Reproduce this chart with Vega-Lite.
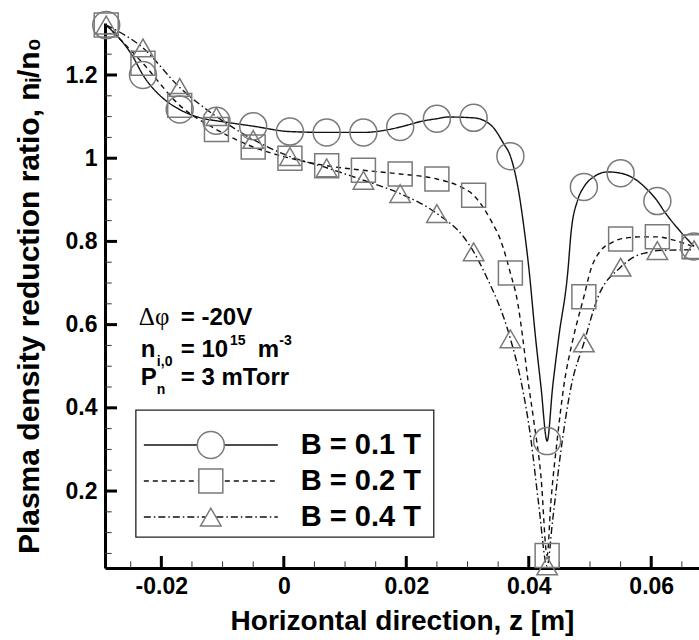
{
  "$schema": "https://vega.github.io/schema/vega-lite/v6.json",
  "width": 594,
  "height": 545,
  "autosize": "none",
  "padding": {"left": 105, "top": 23, "right": 0, "bottom": 72},
  "background": "white",
  "config": {"view": {"stroke": null}, "font": "Liberation Sans"},
  "datasets": {
    "curves": [
      {"B": "B = 0.1 T", "z": -0.029, "n": 1.32},
      {"B": "B = 0.1 T", "z": -0.0246, "n": 1.243},
      {"B": "B = 0.1 T", "z": -0.023, "n": 1.2},
      {"B": "B = 0.1 T", "z": -0.0198, "n": 1.145},
      {"B": "B = 0.1 T", "z": -0.017, "n": 1.117},
      {"B": "B = 0.1 T", "z": -0.0127, "n": 1.094},
      {"B": "B = 0.1 T", "z": -0.011, "n": 1.09},
      {"B": "B = 0.1 T", "z": -0.005, "n": 1.077},
      {"B": "B = 0.1 T", "z": 0.001, "n": 1.064},
      {"B": "B = 0.1 T", "z": 0.007, "n": 1.062},
      {"B": "B = 0.1 T", "z": 0.013, "n": 1.062},
      {"B": "B = 0.1 T", "z": 0.0175, "n": 1.07},
      {"B": "B = 0.1 T", "z": 0.019, "n": 1.075},
      {"B": "B = 0.1 T", "z": 0.0229, "n": 1.09},
      {"B": "B = 0.1 T", "z": 0.025, "n": 1.095},
      {"B": "B = 0.1 T", "z": 0.0268, "n": 1.099},
      {"B": "B = 0.1 T", "z": 0.031, "n": 1.097},
      {"B": "B = 0.1 T", "z": 0.0338, "n": 1.08},
      {"B": "B = 0.1 T", "z": 0.0359, "n": 1.035},
      {"B": "B = 0.1 T", "z": 0.037, "n": 1.005},
      {"B": "B = 0.1 T", "z": 0.0384, "n": 0.916},
      {"B": "B = 0.1 T", "z": 0.0392, "n": 0.835},
      {"B": "B = 0.1 T", "z": 0.04, "n": 0.738},
      {"B": "B = 0.1 T", "z": 0.0411, "n": 0.57},
      {"B": "B = 0.1 T", "z": 0.042, "n": 0.45},
      {"B": "B = 0.1 T", "z": 0.043, "n": 0.32},
      {"B": "B = 0.1 T", "z": 0.0439, "n": 0.45},
      {"B": "B = 0.1 T", "z": 0.0449, "n": 0.57},
      {"B": "B = 0.1 T", "z": 0.0464, "n": 0.731},
      {"B": "B = 0.1 T", "z": 0.0469, "n": 0.82},
      {"B": "B = 0.1 T", "z": 0.048, "n": 0.9},
      {"B": "B = 0.1 T", "z": 0.049, "n": 0.931},
      {"B": "B = 0.1 T", "z": 0.0506, "n": 0.955},
      {"B": "B = 0.1 T", "z": 0.0529, "n": 0.967},
      {"B": "B = 0.1 T", "z": 0.055, "n": 0.964},
      {"B": "B = 0.1 T", "z": 0.0571, "n": 0.952},
      {"B": "B = 0.1 T", "z": 0.0594, "n": 0.924},
      {"B": "B = 0.1 T", "z": 0.061, "n": 0.897},
      {"B": "B = 0.1 T", "z": 0.062, "n": 0.875},
      {"B": "B = 0.1 T", "z": 0.0648, "n": 0.823},
      {"B": "B = 0.1 T", "z": 0.067, "n": 0.788},

      {"B": "B = 0.2 T", "z": -0.029, "n": 1.32},
      {"B": "B = 0.2 T", "z": -0.023, "n": 1.228},
      {"B": "B = 0.2 T", "z": -0.017, "n": 1.127},
      {"B": "B = 0.2 T", "z": -0.011, "n": 1.069},
      {"B": "B = 0.2 T", "z": -0.005, "n": 1.027},
      {"B": "B = 0.2 T", "z": 0.001, "n": 1.0},
      {"B": "B = 0.2 T", "z": 0.007, "n": 0.982},
      {"B": "B = 0.2 T", "z": 0.013, "n": 0.971},
      {"B": "B = 0.2 T", "z": 0.019, "n": 0.962},
      {"B": "B = 0.2 T", "z": 0.025, "n": 0.95},
      {"B": "B = 0.2 T", "z": 0.0289, "n": 0.931},
      {"B": "B = 0.2 T", "z": 0.031, "n": 0.911},
      {"B": "B = 0.2 T", "z": 0.0325, "n": 0.883},
      {"B": "B = 0.2 T", "z": 0.0338, "n": 0.851},
      {"B": "B = 0.2 T", "z": 0.0354, "n": 0.803},
      {"B": "B = 0.2 T", "z": 0.037, "n": 0.724},
      {"B": "B = 0.2 T", "z": 0.0382, "n": 0.652},
      {"B": "B = 0.2 T", "z": 0.039, "n": 0.57},
      {"B": "B = 0.2 T", "z": 0.0398, "n": 0.474},
      {"B": "B = 0.2 T", "z": 0.0408, "n": 0.371},
      {"B": "B = 0.2 T", "z": 0.042, "n": 0.234},
      {"B": "B = 0.2 T", "z": 0.043, "n": 0.045},
      {"B": "B = 0.2 T", "z": 0.0436, "n": 0.171},
      {"B": "B = 0.2 T", "z": 0.0447, "n": 0.33},
      {"B": "B = 0.2 T", "z": 0.0457, "n": 0.45},
      {"B": "B = 0.2 T", "z": 0.0473, "n": 0.57},
      {"B": "B = 0.2 T", "z": 0.049, "n": 0.667},
      {"B": "B = 0.2 T", "z": 0.0501, "n": 0.731},
      {"B": "B = 0.2 T", "z": 0.0518, "n": 0.779},
      {"B": "B = 0.2 T", "z": 0.0534, "n": 0.796},
      {"B": "B = 0.2 T", "z": 0.055, "n": 0.806},
      {"B": "B = 0.2 T", "z": 0.0583, "n": 0.811},
      {"B": "B = 0.2 T", "z": 0.061, "n": 0.811},
      {"B": "B = 0.2 T", "z": 0.0637, "n": 0.803},
      {"B": "B = 0.2 T", "z": 0.067, "n": 0.787},

      {"B": "B = 0.4 T", "z": -0.029, "n": 1.32},
      {"B": "B = 0.4 T", "z": -0.023, "n": 1.265},
      {"B": "B = 0.4 T", "z": -0.017, "n": 1.17},
      {"B": "B = 0.4 T", "z": -0.011, "n": 1.1},
      {"B": "B = 0.4 T", "z": -0.005, "n": 1.045},
      {"B": "B = 0.4 T", "z": 0.001, "n": 1.004},
      {"B": "B = 0.4 T", "z": 0.007, "n": 0.977},
      {"B": "B = 0.4 T", "z": 0.013, "n": 0.947},
      {"B": "B = 0.4 T", "z": 0.019, "n": 0.915},
      {"B": "B = 0.4 T", "z": 0.025, "n": 0.867},
      {"B": "B = 0.4 T", "z": 0.0294, "n": 0.81},
      {"B": "B = 0.4 T", "z": 0.031, "n": 0.775},
      {"B": "B = 0.4 T", "z": 0.0327, "n": 0.727},
      {"B": "B = 0.4 T", "z": 0.037, "n": 0.566},
      {"B": "B = 0.4 T", "z": 0.0387, "n": 0.467},
      {"B": "B = 0.4 T", "z": 0.0403, "n": 0.33},
      {"B": "B = 0.4 T", "z": 0.0416, "n": 0.171},
      {"B": "B = 0.4 T", "z": 0.043, "n": 0.02},
      {"B": "B = 0.4 T", "z": 0.0439, "n": 0.13},
      {"B": "B = 0.4 T", "z": 0.0452, "n": 0.291},
      {"B": "B = 0.4 T", "z": 0.0469, "n": 0.45},
      {"B": "B = 0.4 T", "z": 0.049, "n": 0.556},
      {"B": "B = 0.4 T", "z": 0.0513, "n": 0.666},
      {"B": "B = 0.4 T", "z": 0.055, "n": 0.738},
      {"B": "B = 0.4 T", "z": 0.0571, "n": 0.762},
      {"B": "B = 0.4 T", "z": 0.0599, "n": 0.775},
      {"B": "B = 0.4 T", "z": 0.061, "n": 0.778},
      {"B": "B = 0.4 T", "z": 0.0627, "n": 0.779},
      {"B": "B = 0.4 T", "z": 0.067, "n": 0.78}
    ],
    "samples": [
      {"B": "B = 0.1 T", "z": -0.029, "n": 1.32},
      {"B": "B = 0.1 T", "z": -0.023, "n": 1.2},
      {"B": "B = 0.1 T", "z": -0.017, "n": 1.117},
      {"B": "B = 0.1 T", "z": -0.011, "n": 1.09},
      {"B": "B = 0.1 T", "z": -0.005, "n": 1.077},
      {"B": "B = 0.1 T", "z": 0.001, "n": 1.064},
      {"B": "B = 0.1 T", "z": 0.007, "n": 1.062},
      {"B": "B = 0.1 T", "z": 0.013, "n": 1.062},
      {"B": "B = 0.1 T", "z": 0.019, "n": 1.075},
      {"B": "B = 0.1 T", "z": 0.025, "n": 1.095},
      {"B": "B = 0.1 T", "z": 0.031, "n": 1.097},
      {"B": "B = 0.1 T", "z": 0.037, "n": 1.005},
      {"B": "B = 0.1 T", "z": 0.043, "n": 0.32},
      {"B": "B = 0.1 T", "z": 0.049, "n": 0.931},
      {"B": "B = 0.1 T", "z": 0.055, "n": 0.964},
      {"B": "B = 0.1 T", "z": 0.061, "n": 0.897},
      {"B": "B = 0.1 T", "z": 0.067, "n": 0.788},

      {"B": "B = 0.2 T", "z": -0.029, "n": 1.32},
      {"B": "B = 0.2 T", "z": -0.023, "n": 1.228},
      {"B": "B = 0.2 T", "z": -0.017, "n": 1.127},
      {"B": "B = 0.2 T", "z": -0.011, "n": 1.069},
      {"B": "B = 0.2 T", "z": -0.005, "n": 1.027},
      {"B": "B = 0.2 T", "z": 0.001, "n": 1.0},
      {"B": "B = 0.2 T", "z": 0.007, "n": 0.982},
      {"B": "B = 0.2 T", "z": 0.013, "n": 0.971},
      {"B": "B = 0.2 T", "z": 0.019, "n": 0.962},
      {"B": "B = 0.2 T", "z": 0.025, "n": 0.95},
      {"B": "B = 0.2 T", "z": 0.031, "n": 0.911},
      {"B": "B = 0.2 T", "z": 0.037, "n": 0.724},
      {"B": "B = 0.2 T", "z": 0.043, "n": 0.045},
      {"B": "B = 0.2 T", "z": 0.049, "n": 0.667},
      {"B": "B = 0.2 T", "z": 0.055, "n": 0.806},
      {"B": "B = 0.2 T", "z": 0.061, "n": 0.811},
      {"B": "B = 0.2 T", "z": 0.067, "n": 0.787},

      {"B": "B = 0.4 T", "z": -0.029, "n": 1.32},
      {"B": "B = 0.4 T", "z": -0.023, "n": 1.265},
      {"B": "B = 0.4 T", "z": -0.017, "n": 1.17},
      {"B": "B = 0.4 T", "z": -0.011, "n": 1.1},
      {"B": "B = 0.4 T", "z": -0.005, "n": 1.045},
      {"B": "B = 0.4 T", "z": 0.001, "n": 1.004},
      {"B": "B = 0.4 T", "z": 0.007, "n": 0.977},
      {"B": "B = 0.4 T", "z": 0.013, "n": 0.947},
      {"B": "B = 0.4 T", "z": 0.019, "n": 0.915},
      {"B": "B = 0.4 T", "z": 0.025, "n": 0.867},
      {"B": "B = 0.4 T", "z": 0.031, "n": 0.775},
      {"B": "B = 0.4 T", "z": 0.037, "n": 0.566},
      {"B": "B = 0.4 T", "z": 0.043, "n": 0.02},
      {"B": "B = 0.4 T", "z": 0.049, "n": 0.556},
      {"B": "B = 0.4 T", "z": 0.055, "n": 0.738},
      {"B": "B = 0.4 T", "z": 0.061, "n": 0.778},
      {"B": "B = 0.4 T", "z": 0.067, "n": 0.78}
    ],
    "xMajor": [{"v": -0.02}, {"v": 0}, {"v": 0.02}, {"v": 0.04}, {"v": 0.06}],
    "xMinor": [
      {"v": -0.025}, {"v": -0.015}, {"v": -0.01}, {"v": -0.005}, {"v": 0.005}, {"v": 0.01}, {"v": 0.015},
      {"v": 0.025}, {"v": 0.03}, {"v": 0.035}, {"v": 0.045}, {"v": 0.05}, {"v": 0.055}, {"v": 0.065}
    ],
    "yMajor": [{"v": 0.2}, {"v": 0.4}, {"v": 0.6}, {"v": 0.8}, {"v": 1}, {"v": 1.2}],
    "yMinor": [
      {"v": 0.05}, {"v": 0.1}, {"v": 0.15}, {"v": 0.25}, {"v": 0.3}, {"v": 0.35}, {"v": 0.45}, {"v": 0.5},
      {"v": 0.55}, {"v": 0.65}, {"v": 0.7}, {"v": 0.75}, {"v": 0.85}, {"v": 0.9}, {"v": 0.95}, {"v": 1.05},
      {"v": 1.1}, {"v": 1.15}, {"v": 1.25}, {"v": 1.3}
    ],
    "key": [
      {"B": "B = 0.1 T", "row": 0.3106},
      {"B": "B = 0.2 T", "row": 0.224},
      {"B": "B = 0.4 T", "row": 0.1375}
    ],
    "notes": [
      {"text": "= -20V", "z": -0.01682, "n": 0.5985},
      {"text": "n", "z": -0.02335, "n": 0.5225},
      {"text": "= 10", "z": -0.01682, "n": 0.5225},
      {"text": "m", "z": -0.00424, "n": 0.5225},
      {"text": "P", "z": -0.02335, "n": 0.4555},
      {"text": "= 3 mTorr", "z": -0.01682, "n": 0.4555}
    ],
    "notesSmall": [
      {"text": "i,0", "z": -0.02073, "n": 0.501},
      {"text": "15", "z": -0.0088, "n": 0.5505},
      {"text": "-3", "z": -0.00075, "n": 0.5505},
      {"text": "n", "z": -0.02073, "n": 0.4335}
    ],
    "notesSymbol": [
      {"text": "Δφ", "z": -0.02367, "n": 0.5985}
    ]
  },
  "layer": [
    {
      "data": {"name": "curves"},
      "mark": {"type": "line", "interpolate": "monotone", "color": "#111111", "strokeWidth": 1.4},
      "encoding": {
        "x": {
          "field": "z",
          "type": "quantitative",
          "scale": {"domain": [-0.0292, 0.0678], "nice": false, "zero": false},
          "axis": {
            "orient": "bottom",
            "title": "Horizontal direction, z [m]",
            "values": [-0.02, 0, 0.02, 0.04, 0.06],
            "format": ".2~f",
            "labelExpr": "replace(datum.label, '−', '-')",
            "grid": false,
            "ticks": false,
            "domainColor": "black",
            "domainWidth": 3,
            "labelPadding": 7,
            "labelFont": "Liberation Sans",
            "labelFontSize": 23,
            "labelFontWeight": "bold",
            "labelColor": "black",
            "labelFlush": false,
            "labelOverlap": false,
            "titleFont": "Liberation Sans",
            "titleFontSize": 28,
            "titleFontWeight": "bold",
            "titleColor": "black",
            "titlePadding": 9
          }
        },
        "y": {
          "field": "n",
          "type": "quantitative",
          "scale": {"domain": [0.015, 1.325], "nice": false, "zero": false},
          "axis": {
            "orient": "left",
            "title": "Plasma density reduction ratio, nᵢ/n₀",
            "values": [0.2, 0.4, 0.6, 0.8, 1, 1.2],
            "format": "~g",
            "grid": false,
            "ticks": false,
            "domainColor": "black",
            "domainWidth": 3,
            "labelPadding": 8,
            "labelFont": "Liberation Sans",
            "labelFontSize": 23,
            "labelFontWeight": "bold",
            "labelColor": "black",
            "labelFlush": false,
            "labelOverlap": false,
            "titleFont": "Liberation Sans",
            "titleFontSize": 30,
            "titleFontWeight": "bold",
            "titleColor": "black",
            "titlePadding": 21
          }
        },
        "strokeDash": {
          "field": "B",
          "type": "nominal",
          "scale": {"domain": ["B = 0.1 T", "B = 0.2 T", "B = 0.4 T"], "range": [[1, 0], [5, 4], [7, 3, 1.5, 3]]},
          "legend": null
        }
      }
    },
    {
      "data": {"name": "xMajor"},
      "mark": {"type": "rule", "color": "black", "strokeWidth": 3},
      "encoding": {
        "x": {"field": "v", "type": "quantitative"},
        "y": {"datum": 0.015, "type": "quantitative"},
        "y2": {"datum": 0.0438}
      }
    },
    {
      "data": {"name": "xMinor"},
      "mark": {"type": "rule", "color": "#333333", "strokeWidth": 1},
      "encoding": {
        "x": {"field": "v", "type": "quantitative"},
        "y": {"datum": 0.015, "type": "quantitative"},
        "y2": {"datum": 0.0309}
      }
    },
    {
      "data": {"name": "yMajor"},
      "mark": {"type": "rule", "color": "black", "strokeWidth": 3},
      "encoding": {
        "y": {"field": "v", "type": "quantitative"},
        "x": {"datum": -0.0292, "type": "quantitative"},
        "x2": {"datum": -0.02724}
      }
    },
    {
      "data": {"name": "yMinor"},
      "mark": {"type": "rule", "color": "#333333", "strokeWidth": 1},
      "encoding": {
        "y": {"field": "v", "type": "quantitative"},
        "x": {"datum": -0.0292, "type": "quantitative"},
        "x2": {"datum": -0.02811}
      }
    },
    {
      "data": {"name": "samples"},
      "mark": {"type": "point", "filled": false, "stroke": "#7a7a7a", "strokeWidth": 1.5, "opacity": 1},
      "encoding": {
        "x": {"field": "z", "type": "quantitative"},
        "y": {"field": "n", "type": "quantitative"},
        "shape": {
          "field": "B",
          "type": "nominal",
          "scale": {"domain": ["B = 0.1 T", "B = 0.2 T", "B = 0.4 T"], "range": ["circle", "square", "triangle-up"]},
          "legend": null
        },
        "size": {
          "field": "B",
          "type": "nominal",
          "scale": {"domain": ["B = 0.1 T", "B = 0.2 T", "B = 0.4 T"], "range": [729, 420, 576]},
          "legend": null
        }
      }
    },
    {
      "data": {"values": [{}]},
      "mark": {"type": "rect", "fill": "white", "stroke": "#222222", "strokeWidth": 1.3},
      "encoding": {
        "x": {"datum": -0.02416, "type": "quantitative"},
        "x2": {"datum": 0.02449},
        "y": {"datum": 0.3947, "type": "quantitative"},
        "y2": {"datum": 0.0894}
      }
    },
    {
      "data": {"name": "key"},
      "mark": {"type": "rule", "color": "#111111", "strokeWidth": 1.4},
      "encoding": {
        "x": {"datum": -0.02286, "type": "quantitative"},
        "x2": {"datum": -0.00098},
        "y": {"field": "row", "type": "quantitative"},
        "strokeDash": {"field": "B", "type": "nominal", "legend": null}
      }
    },
    {
      "data": {"name": "key"},
      "mark": {"type": "point", "filled": true, "fill": "white", "stroke": "#7a7a7a", "strokeWidth": 1.5, "opacity": 1},
      "encoding": {
        "x": {"datum": -0.01192, "type": "quantitative"},
        "y": {"field": "row", "type": "quantitative"},
        "shape": {"field": "B", "type": "nominal", "legend": null},
        "size": {"field": "B", "type": "nominal", "legend": null}
      }
    },
    {
      "data": {"name": "key"},
      "mark": {"type": "text", "align": "left", "baseline": "middle", "font": "Liberation Sans", "fontSize": 29, "fontWeight": "bold", "color": "black"},
      "encoding": {
        "x": {"datum": 0.00278, "type": "quantitative"},
        "y": {"field": "row", "type": "quantitative"},
        "text": {"field": "B"}
      }
    },
    {
      "data": {"name": "notes"},
      "mark": {"type": "text", "align": "left", "baseline": "alphabetic", "font": "Liberation Sans", "fontSize": 24, "fontWeight": "bold", "color": "black"},
      "encoding": {
        "x": {"field": "z", "type": "quantitative"},
        "y": {"field": "n", "type": "quantitative"},
        "text": {"field": "text"}
      }
    },
    {
      "data": {"name": "notesSmall"},
      "mark": {"type": "text", "align": "left", "baseline": "alphabetic", "font": "Liberation Sans", "fontSize": 14, "fontWeight": "bold", "color": "black"},
      "encoding": {
        "x": {"field": "z", "type": "quantitative"},
        "y": {"field": "n", "type": "quantitative"},
        "text": {"field": "text"}
      }
    },
    {
      "data": {"name": "notesSymbol"},
      "mark": {"type": "text", "align": "left", "baseline": "alphabetic", "font": "Liberation Serif", "fontSize": 25, "color": "black"},
      "encoding": {
        "x": {"field": "z", "type": "quantitative"},
        "y": {"field": "n", "type": "quantitative"},
        "text": {"field": "text"}
      }
    }
  ]
}
